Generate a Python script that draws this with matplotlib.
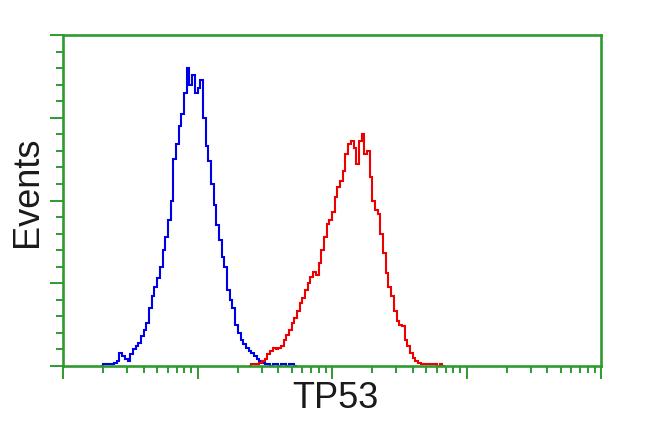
import numpy as np
import matplotlib
matplotlib.use('Agg')
import matplotlib.pyplot as plt
from matplotlib.ticker import LogLocator, MultipleLocator, NullFormatter

# histogram channels: 50 log-spaced bins per decade, 4 decades
bins_per_decade = 50

# blue (control) histogram, counts starting at channel 14
blue_start = 14
blue_counts = [0, 1, 1, 1, 1, 2, 3, 8, 6, 4, 3, 7, 10, 12, 14, 18, 22, 26, 35, 42,
               48, 53, 60, 70, 78, 88, 100, 125, 134, 145, 152, 165, 180, 170, 176, 165,
               168, 173, 150, 133, 124, 110, 97, 85, 76, 66, 60, 46, 40, 35, 25, 20,
               16, 13, 11, 9, 8, 6, 4, 3, 2, 1, 1, 0, 1, 1, 0, 1, 1, 0, 1, 1, 0]

# red (TP53) histogram, counts starting at channel 69
red_start = 69
red_counts = [0, 1, 1, 1, 2, 3, 4, 7, 9, 11, 10, 11, 12, 16, 19, 22, 26, 29, 33, 38,
              41, 46, 50, 54, 57, 55, 62, 70, 78, 86, 88, 93, 102, 108, 112, 118, 128,
              134, 136, 132, 122, 136, 140, 128, 130, 114, 100, 94, 92, 80, 68, 56, 48,
              42, 33, 27, 25, 24, 16, 12, 8, 5, 3, 2, 1, 1, 1, 1, 1, 1, 0, 1, 0]

green = '#2f9a2f'

fig = plt.figure(figsize=(6.5, 4.32), dpi=100)
ax = fig.add_axes([63/650, 1-366/432, (601-63)/650, (366-35)/432])

def edges(start, n):
    ch = np.arange(start, start + n + 1)
    return 10.0 ** (ch / bins_per_decade)

ax.stairs(blue_counts, edges(blue_start, len(blue_counts)), color='#0000e6', lw=1.5)
ax.stairs(red_counts, edges(red_start, len(red_counts)), color='#ee0000', lw=1.5)

ax.set_xscale('log')
ax.set_xlim(1, 10000)
ax.set_ylim(0, 200)

ax.xaxis.set_major_locator(LogLocator(base=10, numticks=10))
ax.xaxis.set_minor_locator(LogLocator(base=10, subs=np.arange(2, 10), numticks=10))
ax.xaxis.set_major_formatter(NullFormatter())
ax.xaxis.set_minor_formatter(NullFormatter())
ax.yaxis.set_major_locator(MultipleLocator(50))
ax.yaxis.set_minor_locator(MultipleLocator(10))
ax.yaxis.set_major_formatter(NullFormatter())

ax.tick_params(which='major', direction='out', length=9.5, width=1.4, color=green)
ax.tick_params(which='minor', direction='out', length=5, width=1.4, color=green)

for s in ax.spines.values():
    s.set_color(green)
    s.set_linewidth(1.9)

fig.text(28/650, 1-192/432, 'Events', rotation=90, ha='center', va='center',
         fontsize=26, family='Liberation Sans', color='#1a1a1a')
fig.text(335/650, 1-399/432, 'TP53', ha='center', va='center',
         fontsize=26, family='Liberation Sans', color='#1a1a1a')

fig.savefig('out.png', dpi=100)
